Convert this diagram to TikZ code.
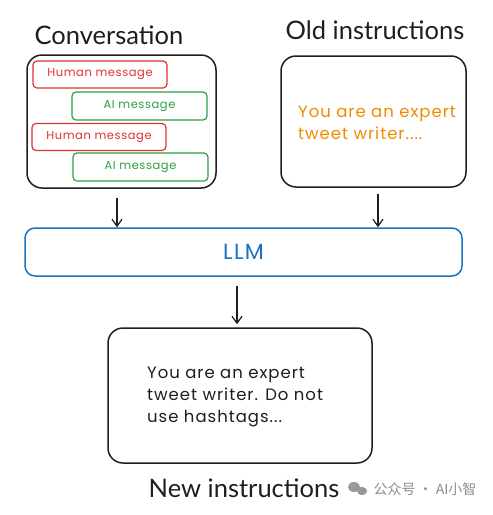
\documentclass[tikz,border=0pt]{standalone}
\usepackage{fontspec}
\setmainfont{Lato}
\newfontfamily\handfont[LetterSpace=6]{Poppins}
\newfontfamily\msgfont[LetterSpace=5]{Poppins}
\newfontfamily\cjkfont{Noto Sans CJK SC}
\usepackage{xcolor}
\usetikzlibrary{arrows.meta,positioning,calc}
\definecolor{inkc}{HTML}{1E1E1E}
\definecolor{humanc}{HTML}{E03131}
\definecolor{aic}{HTML}{2F9E44}
\definecolor{promptc}{HTML}{F08C00}
\definecolor{llmc}{HTML}{1971C2}
\tikzset{
  panel/.style={rectangle, draw=inkc, line width=1.5pt, rounded corners=15pt},
  msg/.style={rectangle, draw, line width=1.2pt, rounded corners=4pt,
              font=\msgfont\fontsize{11.5}{13}\selectfont, inner sep=0pt},
  hmsg/.style={msg, draw=humanc, text=humanc, minimum width=134pt, minimum height=27pt},
  amsg/.style={msg, draw=aic, text=aic, minimum width=135pt, minimum height=28pt},
  ttl/.style={font=\fontsize{25.5}{30}\selectfont, text=inkc},
  hand/.style={font=\handfont\fontsize{16.5}{22}\selectfont, align=left, inner sep=0pt},
  fl/.style={-{Straight Barb[length=7pt,width=10pt]}, line width=1.2pt, draw=inkc},
}

\begin{document}
\begin{tikzpicture}[x=1pt,y=-1pt]
\useasboundingbox (0,0) rectangle (493,515);
% top left: the conversation
\node[ttl] (convt) at (109,35) {Conversation};
\node[panel, minimum width=189pt, minimum height=133pt] (conv) at (121.5,121.5) {};
\node[hmsg] (hm1) at (100,74.5) {Human message};
\node[amsg] (ai1) at (139.5,106) {AI message};
\node[hmsg] (hm2) at (99,137) {Human message};
\node[amsg] (ai2) at (140.5,167) {AI message};
% top right: old prompt
\node[ttl] (oldt) at (375,30) {Old instructions};
\node[panel, minimum width=185pt, minimum height=131pt] (old) at (373.5,121.5) {};
\node[hand, text=promptc, anchor=base west] (oldp) at (298,139) {You are an expert\\tweet writer....};
% the model
\node[rectangle, draw=llmc, line width=1.5pt, rounded corners=10pt,
      minimum width=437pt, minimum height=48pt, text=llmc,
      font=\handfont\fontsize{22}{26}\selectfont] (llm) at (243.5,252) {LLM};
% bottom: new prompt
\node[panel, minimum width=264pt, minimum height=135pt] (new) at (240,395.5) {};
\node[hand, text=inkc, anchor=base west] (newp) at (147,422) {You are an expert\\tweet writer. Do not\\use hashtags...};
\node[ttl] (newt) at (244,488) {New instructions};
% watermark
\fill[black!40] (354,487) ellipse (6pt and 5pt);
\fill[black!40] (362,491) ellipse (5pt and 4.2pt);
\node[font=\cjkfont\fontsize{14}{16}\selectfont, text=black!45, anchor=west] (wm) at (370,489) {公众号 · AI小智};
% arrows
\draw[fl, shorten <=9pt] ([xshift=-4.5pt]conv.south) -- ([xshift=-4.5pt]conv.south |- llm.north);
\draw[fl, shorten <=6pt] ([xshift=4.5pt]old.south) -- ([xshift=4.5pt]old.south |- llm.north);
\draw[fl, shorten <=9pt, shorten >=3pt] ([xshift=-3pt]new.north |- llm.south) -- ([xshift=-3pt]new.north);
\end{tikzpicture}
\end{document}
